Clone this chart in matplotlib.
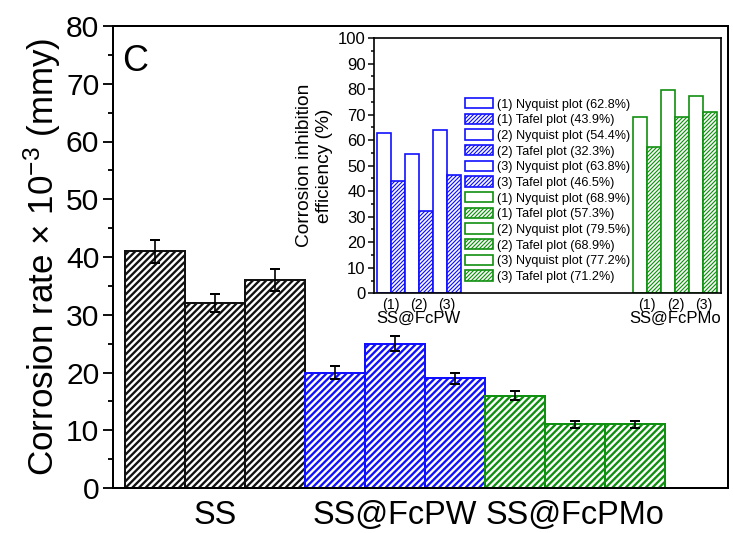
import numpy as np
import matplotlib
matplotlib.use("Agg")
import matplotlib.pyplot as plt
from matplotlib.ticker import MultipleLocator

plt.rcParams['font.family'] = ['Liberation Sans', 'DejaVu Sans']
plt.rcParams['mathtext.default'] = 'regular'

# ---------------- data ----------------
groups = ['SS', 'SS@FcPW', 'SS@FcPMo']
ss_rate = [41, 32, 36]
fcpw_rate = [20, 25, 19]
fcpmo_rate = [16, 11, 11]
ss_err = [2.0, 1.6, 1.85]
fcpw_err = [1.1, 1.3, 1.0]
fcpmo_err = [0.8, 0.6, 0.6]

sample_labels = ['(1)', '(2)', '(3)']
fcpw_nyquist = [62.8, 54.4, 63.8]
fcpw_tafel = [43.9, 32.3, 46.5]
fcpmo_nyquist = [68.9, 79.5, 77.2]
fcpmo_tafel = [57.3, 68.9, 71.2]

main_yticks = list(range(0, 81, 10))
inset_yticks = list(range(0, 101, 10))

BLACK = '#111111'
BLUE = '#1010ff'
GREEN = '#109010'

DPI = 120
fig = plt.figure(figsize=(733 / DPI, 533 / DPI), dpi=DPI)

# ---------------- main axes ----------------
ax = fig.add_axes([112.7 / 733, 45 / 533, (728 - 112.7) / 733, (488 - 26) / 533])
plt.rcParams['hatch.linewidth'] = 1.4
colors = [BLACK, BLUE, GREEN]
series = [ss_rate, fcpw_rate, fcpmo_rate]
errs = [ss_err, fcpw_err, fcpmo_err]
for g, (vals, err, c) in enumerate(zip(series, errs, colors)):
    x = np.arange(len(vals)) + 3 * g
    ax.bar(x, vals, width=1.0, color='white', edgecolor=c, hatch='//////',
           linewidth=1.2, zorder=2)
    ax.errorbar(x, vals, yerr=err, fmt='none', ecolor='black', elinewidth=1.0,
                capsize=2.8, capthick=1.2, zorder=3)

ax.set_xlim(-0.705, 9.55)
ax.set_ylim(0, 80)
ax.set_yticks(main_yticks)
ax.yaxis.set_minor_locator(MultipleLocator(5))
ax.set_xticks([1, 4, 7])
ax.set_xticklabels(groups, fontsize=19.5)
ax.tick_params(axis='x', length=0, pad=7)
ax.tick_params(axis='y', which='major', direction='out', length=6, width=1.1,
               labelsize=18, pad=2)
ax.tick_params(axis='y', which='minor', direction='out', length=3, width=1.1)
for s in ax.spines.values():
    s.set_linewidth(1.2)
ax.set_ylabel('Corrosion rate × 10$^{-3}$ (mmy)', fontsize=21, labelpad=2)
ax.text(0.015, 0.96, 'C', transform=ax.transAxes, fontsize=21.5, va='top', ha='left')

# ---------------- inset ----------------
ins = fig.add_axes([374 / 733, (533 - 293.3) / 533, (720.7 - 374) / 733,
                    (293.3 - 38) / 533])
plt.rcParams['hatch.linewidth'] = 0.7
grp_start = [0.0, 18.33]
grp_data = [(fcpw_nyquist, fcpw_tafel, BLUE), (fcpmo_nyquist, fcpmo_tafel, GREEN)]
tick_pos = []
tick_lab = []
for start, (nyq, taf, c) in zip(grp_start, grp_data):
    for i in range(len(nyq)):
        xn = start + 2 * i
        ins.bar(xn, nyq[i], width=1.0, align='edge', color='white',
                edgecolor=c, linewidth=1.0,
                label=f'{sample_labels[i]} Nyquist plot ({nyq[i]}%)')
        ins.bar(xn + 1, taf[i], width=1.0, align='edge', color='white',
                edgecolor=c, hatch='//////////', linewidth=1.0,
                label=f'{sample_labels[i]} Tafel plot ({taf[i]}%)')
        tick_pos.append(xn + 1)
        tick_lab.append(sample_labels[i])

ins.set_xlim(-0.19, 24.57)
ins.set_ylim(0, 100)
ins.set_yticks(inset_yticks)
ins.yaxis.set_minor_locator(MultipleLocator(5))
ins.set_xticks(tick_pos)
ins.set_xticklabels(tick_lab, fontsize=8.5)
ins.tick_params(axis='x', length=0, pad=3)
ins.tick_params(axis='y', which='major', direction='out', length=3.5, width=0.9,
                labelsize=10, pad=1.5)
ins.tick_params(axis='y', which='minor', direction='out', length=2, width=0.9)
for s in ins.spines.values():
    s.set_linewidth(1.0)
ins.set_ylabel('Corrosion inhibition\nefficiency (%)', fontsize=11.5, labelpad=3)

for start, name in zip(grp_start, ['SS@FcPW', 'SS@FcPMo']):
    ins.text(start + 3, -0.07, name, transform=ins.get_xaxis_transform(),
             ha='center', va='top', fontsize=10)

ins.legend(loc='upper left', bbox_to_anchor=(0.262, 0.765), frameon=False,
           fontsize=7.6, handlelength=2.26, handleheight=0.87, labelspacing=0.25,
           handletextpad=0.3, borderpad=0, borderaxespad=0)

fig.savefig('out.png', dpi=DPI)
